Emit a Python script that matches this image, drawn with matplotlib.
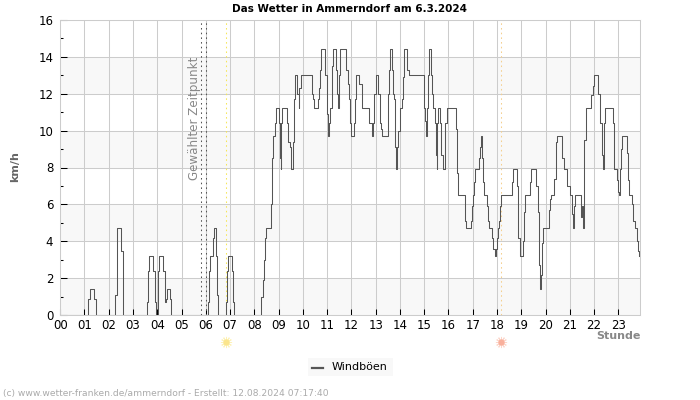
import matplotlib
matplotlib.use('Agg')
import matplotlib.pyplot as plt

title = 'Das Wetter in Ammerndorf am 6.3.2024'
footer = '(c) www.wetter-franken.de/ammerndorf - Erstellt: 12.08.2024 07:17:40'
hour_labels = ['%02d' % h for h in range(24)]
selected_hours = [5.81, 6.0]
sunrise_hour = 6.85
sunset_hour = 18.18

# breakpoints of the stepped curve: hour of the day, gust in km/h
gust_hours = [
    0.00, 1.16, 1.23, 1.41, 1.49, 2.26, 2.32, 2.36, 2.52, 2.58, 2.60, 3.59, 3.63, 3.67, 3.84, 3.89,
    3.95, 4.01, 4.08, 4.25, 4.30, 4.36, 4.40, 4.51, 4.56, 6.07, 6.14, 6.19, 6.29, 6.33, 6.42, 6.48,
    6.52, 6.85, 6.89, 6.92, 7.08, 7.12, 7.16, 8.29, 8.34, 8.40, 8.44, 8.48, 8.68, 8.73, 8.77, 8.85,
    8.90, 9.00, 9.04, 9.08, 9.10, 9.16, 9.33, 9.40, 9.45, 9.51, 9.59, 9.63, 9.67, 9.75, 9.82, 9.86,
    9.91, 10.36, 10.41, 10.45, 10.62, 10.66, 10.70, 10.74, 10.93, 10.98, 11.02, 11.06, 11.10, 11.18,
    11.22, 11.26, 11.35, 11.39, 11.43, 11.47, 11.51, 11.77, 11.85, 11.89, 11.94, 11.98, 12.09, 12.13,
    12.17, 12.33, 12.42, 12.74, 12.83, 12.91, 12.95, 13.01, 13.09, 13.17, 13.21, 13.25, 13.50, 13.54,
    13.58, 13.66, 13.71, 13.75, 13.79, 13.83, 13.87, 13.91, 13.99, 14.08, 14.12, 14.17, 14.28, 14.36,
    15.01, 15.05, 15.09, 15.10, 15.15, 15.19, 15.27, 15.31, 15.35, 15.43, 15.47, 15.52, 15.53, 15.58,
    15.67, 15.71, 15.76, 15.84, 15.93, 16.33, 16.37, 16.41, 16.66, 16.70, 16.74, 16.91, 16.95, 16.99,
    17.07, 17.11, 17.24, 17.28, 17.32, 17.40, 17.44, 17.48, 17.57, 17.61, 17.65, 17.81, 17.85, 17.90,
    17.94, 17.98, 18.02, 18.10, 18.14, 18.18, 18.60, 18.64, 18.84, 18.88, 18.93, 19.09, 19.13, 19.17,
    19.34, 19.42, 19.59, 19.67, 19.71, 19.75, 19.79, 19.83, 19.87, 19.91, 20.16, 20.20, 20.24, 20.33,
    20.41, 20.45, 20.49, 20.66, 20.74, 20.90, 20.99, 21.07, 21.15, 21.19, 21.23, 21.48, 21.52, 21.56,
    21.60, 21.65, 21.89, 21.95, 21.99, 22.18, 22.25, 22.31, 22.35, 22.39, 22.43, 22.76, 22.80, 22.84,
    22.94, 22.98, 23.01, 23.05, 23.09, 23.17, 23.34, 23.38, 23.42, 23.58, 23.62, 23.69, 23.77, 23.82,
    23.86,
]
gust_kmh = [
    0, 0.9, 1.4, 0.9, 0, 1.1, 3.5, 4.7, 3.5, 1.1, 0, 0.7, 2.4, 3.2, 2.4, 0.7,
    0, 2.4, 3.2, 2.4, 0.7, 0.9, 1.4, 0.9, 0, 0.7, 2.4, 3.2, 4.2, 4.7, 3.2, 1.1,
    0, 0.7, 2.4, 3.2, 2.4, 0.7, 0, 1.0, 1.9, 3.0, 4.2, 4.7, 6.0, 8.5, 9.7, 10.4,
    11.2, 10.4, 8.5, 7.9, 10.4, 11.2, 10.4, 9.4, 9.1, 7.9, 9.4, 11.7, 13.0, 12.0, 11.2, 12.3,
    13.0, 12.0, 11.7, 11.2, 11.7, 12.3, 13.3, 14.4, 13.0, 10.9, 9.7, 10.4, 11.2, 12.7,
    13.5, 14.4, 13.3, 12.0, 11.2, 13.0, 14.4, 13.3, 12.5, 11.7, 10.4, 9.7, 10.4, 11.7,
    13.0, 12.5, 11.2, 10.4, 9.7, 10.4, 12.0, 13.0, 12.0, 10.4, 10.1, 9.7, 12.0, 13.3,
    14.4, 13.3, 12.0, 11.7, 9.1, 7.9, 9.1, 10.0, 11.2, 11.7, 12.9, 14.4, 13.3, 13.0,
    11.2, 10.5, 9.7, 11.2, 13.0, 14.4, 13.0, 12.0, 11.2, 10.4, 8.7, 7.9, 10.4, 11.2,
    10.4, 8.7, 7.9, 10.4, 11.2, 10.1, 7.7, 6.5, 5.9, 5.1, 4.7, 5.1, 5.9, 6.5,
    7.2, 7.9, 8.5, 9.1, 9.7, 8.5, 7.2, 6.5, 5.9, 5.1, 4.7, 4.2, 3.6, 3.2,
    3.6, 4.2, 4.7, 5.1, 5.9, 6.5, 7.2, 7.9, 7.0, 4.2, 3.2, 4.0, 5.6, 6.5,
    7.2, 7.9, 7.0, 5.6, 4.0, 2.7, 1.4, 2.2, 3.9, 4.7, 5.7, 6.3, 6.5, 7.4,
    8.5, 9.4, 9.7, 8.5, 7.9, 7.0, 6.5, 5.5, 4.7, 5.9, 6.5, 5.3, 5.9, 4.7,
    9.5, 11.2, 11.9, 12.4, 13.0, 12.0, 10.4, 8.7, 7.9, 10.4, 11.2, 10.4, 8.8, 7.9,
    7.3, 6.7, 6.5, 7.9, 9.0, 9.7, 8.8, 7.3, 6.5, 6.0, 5.1, 4.7, 4.0, 3.5,
    3.2,
]

fig = plt.figure(figsize=(7, 4), dpi=100)
ax = fig.add_axes([60.2 / 700, 1 - 315.3 / 400, 580 / 700, 295.6 / 400])

for low in range(0, 16, 4):
    ax.axhspan(low, low + 2, color='#f8f8f8', lw=0, zorder=0)
ax.grid(True, color='#cccccc', lw=0.75, zorder=1)
ax.set_axisbelow(True)

for h in selected_hours:
    ax.axvline(h, color='#555555', lw=0.75, ls=(0, (1.5, 3)), zorder=2)
ax.axvline(sunrise_hour, color='#f6e75a', lw=0.75, ls=(0, (1.5, 3)), zorder=2)
ax.axvline(sunset_hour, color='#f5cf8f', lw=0.75, ls=(0, (1.5, 3)), zorder=2)

ax.step(gust_hours, gust_kmh, where='post', color='#555555', lw=0.75, zorder=3)

ax.set_xlim(0, 23.9)
ax.set_ylim(0, 16)
ax.set_xticks(range(24))
ax.set_xticklabels(hour_labels, fontsize=8.5)
ax.set_yticks(range(0, 17, 2))
ax.set_yticks(range(1, 16, 2), minor=True)
ax.tick_params(axis='x', direction='in', length=4, width=0.75, pad=3, color='black')
ax.tick_params(axis='y', which='major', direction='in', length=5, width=0.75, pad=5, labelsize=8.5)
ax.tick_params(axis='y', which='minor', direction='in', length=2, width=0.75)
for s in ax.spines.values():
    s.set_color('#cccccc')
    s.set_linewidth(0.75)

ax.text(5.55, 7.32, 'Gewählter Zeitpunkt', rotation=90, color='#888888', fontsize=8.6,
        ha='center', va='bottom', zorder=4)
ax.text(23.9, -1.13, 'Stunde', color='#888888', fontsize=8, fontweight='bold', ha='right', va='center')
fig.text(15 / 700, 1 - 167 / 400, 'km/h', color='#666666', fontsize=8, fontweight='bold',
         rotation=90, ha='center', va='center')
fig.text(349.5 / 700, 1 - 8.5 / 400, title, fontsize=7.5, fontweight='bold', ha='center', va='center')

# sun icons below the axis
for h, glow, core in [(sunrise_hour, '#fdf2b8', '#fbe58c'), (sunset_hour, '#fcd6ca', '#f9b09c')]:
    ax.plot([h], [-1.43], marker=(12, 2, 0), ms=8, color=glow, mew=0.7, clip_on=False, zorder=5)
    ax.plot([h], [-1.43], marker='o', ms=4.5, color=core, mew=0, clip_on=False, zorder=6)

# legend box
fig.patches.append(plt.Rectangle((308 / 700, 1 - 376 / 400), 85 / 700, 18 / 400, transform=fig.transFigure,
                                 color='#f8f8f8', lw=0))
fig.add_artist(plt.Line2D([312 / 700, 323 / 700], [1 - 368 / 400] * 2, color='#555555', lw=1.6))
fig.text(332 / 700, 1 - 367 / 400, 'Windböen', fontsize=8, ha='left', va='center')

fig.text(3 / 700, 1 - 393.5 / 400, footer, color='#aaaaaa', fontsize=6.55, ha='left', va='center')

plt.savefig('out.png', dpi=100)
